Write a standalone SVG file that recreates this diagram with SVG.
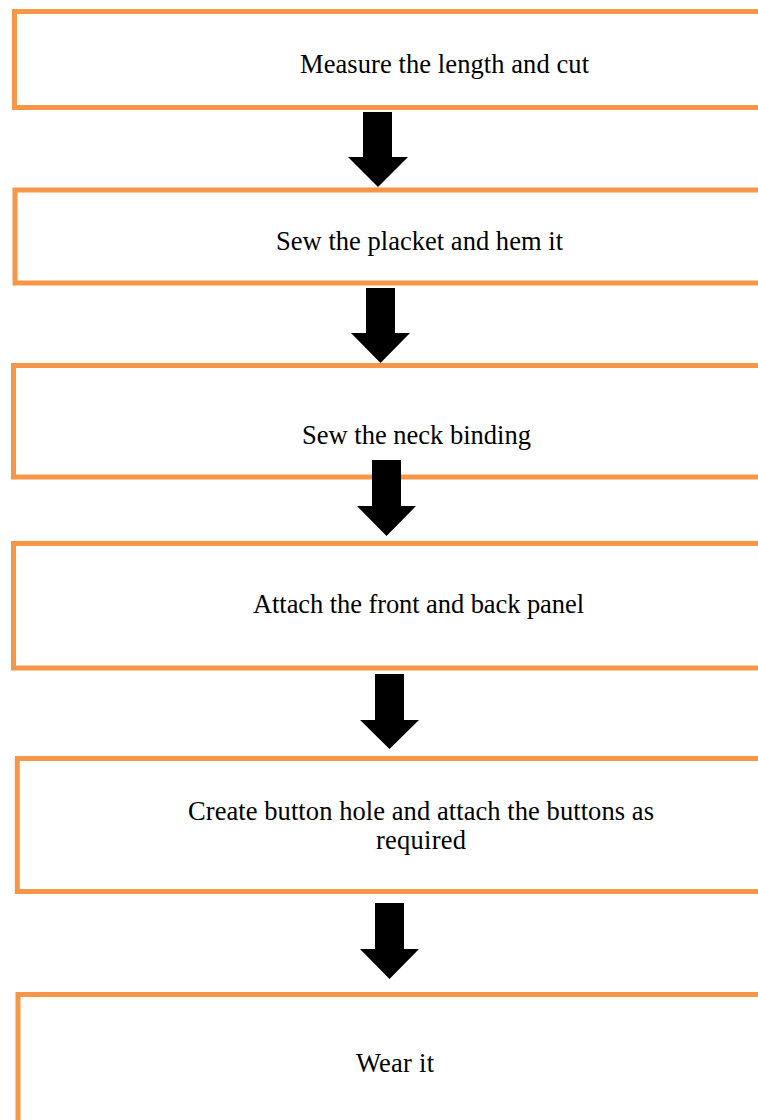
<svg xmlns="http://www.w3.org/2000/svg" width="758" height="1120" viewBox="0 0 758 1120">
<style>
.box{fill:#ffffff;stroke:#F79646;stroke-width:5}
.lbl{font-family:"Liberation Serif","Times New Roman",serif;font-size:26.5px;fill:#000000}
.arr{fill:#000000}
</style>
<rect width="758" height="1120" fill="#ffffff"/>
<g id="n1"><rect class="box" x="14.5" y="11.5" width="800" height="96"/><text class="lbl" x="300" y="73" textLength="289" lengthAdjust="spacing">Measure the length and cut</text></g>
<g id="n2"><rect class="box" x="15" y="190" width="800" height="93"/><text class="lbl" x="276" y="250" textLength="287" lengthAdjust="spacing">Sew the placket and hem it</text></g>
<g id="n3"><rect class="box" x="13.5" y="365.5" width="800" height="111.5"/><text class="lbl" x="302" y="444">Sew the neck binding</text></g>
<g id="n4"><rect class="box" x="13.5" y="543.5" width="800" height="124.5"/><text class="lbl" x="253" y="613" textLength="331" lengthAdjust="spacing">Attach the front and back panel</text></g>
<g id="n5"><rect class="box" x="17.3" y="758.5" width="800" height="133"/><text class="lbl" x="188" y="820" textLength="466" lengthAdjust="spacing">Create button hole and attach the buttons as</text><text class="lbl" x="376" y="849" textLength="90" lengthAdjust="spacing">required</text></g>
<g id="n6"><rect class="box" x="18" y="994.5" width="800" height="160"/><text class="lbl" x="356" y="1072" textLength="78" lengthAdjust="spacing">Wear it</text></g>
<g id="connectors">
<polygon class="arr" points="363,112 392,112 392,157 408,157 378,187 348,157 363,157"/>
<polygon class="arr" points="366,288 395,288 395,333 410,333 380.5,363 351,333 366,333"/>
<polygon class="arr" points="372,460 401,460 401,506 416,506 386.5,536 357,506 372,506"/>
<polygon class="arr" points="375,674 404,674 404,720 419,720 389.5,749 360,720 375,720"/>
<polygon class="arr" points="375,903 404,903 404,949 419,949 389.5,979 360,949 375,949"/>
</g>
</svg>
